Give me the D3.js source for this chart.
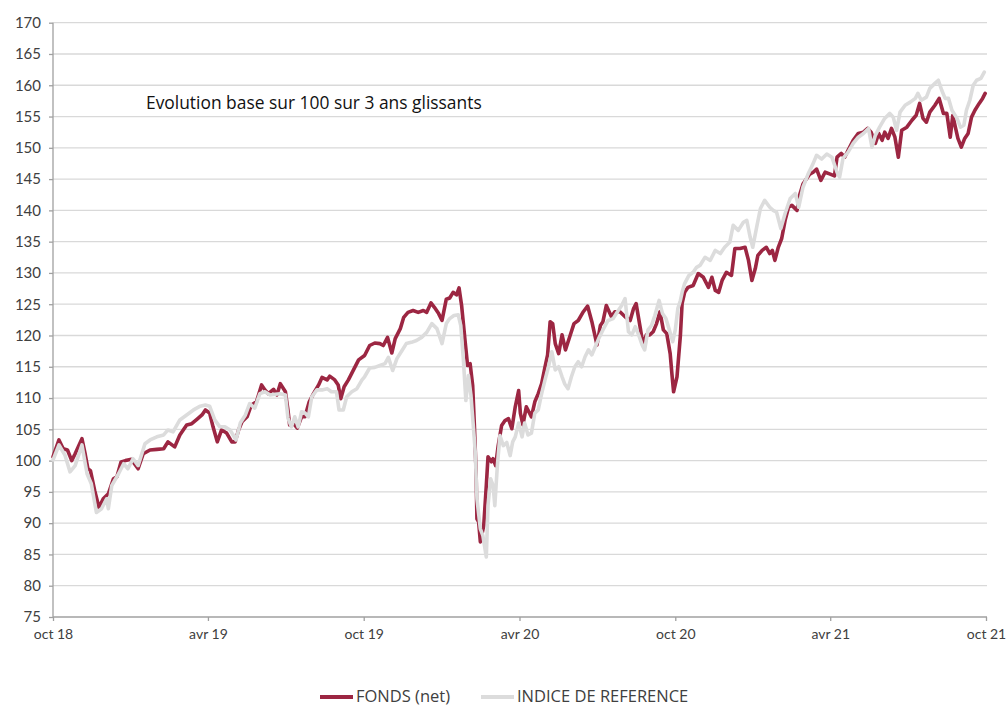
<!DOCTYPE html>
<html>
<head>
<meta charset="utf-8">
<script src="https://cdn.jsdelivr.net/npm/d3@7"></script>
<style>
  body { margin: 0; background: #fff; }
  text { font-family: Lato, "Open Sans", sans-serif; }
</style>
</head>
<body>
<svg id="chart" width="1008" height="706"></svg>
<script>
/* values */
const fondsDates = [
  '2018-10-01','2018-10-08','2018-10-13','2018-10-18','2018-10-23','2018-10-27','2018-11-04','2018-11-08','2018-11-11','2018-11-14',
  '2018-11-19','2018-11-24','2018-11-29','2018-12-05','2018-12-11','2018-12-15','2018-12-20','2018-12-25','2018-12-28','2019-01-01',
  '2019-01-09','2019-01-15','2019-01-23','2019-01-31','2019-02-08','2019-02-13','2019-02-21','2019-02-27','2019-03-07','2019-03-13',
  '2019-03-19','2019-03-25','2019-03-29','2019-04-03','2019-04-07','2019-04-12','2019-04-17','2019-04-23','2019-04-29','2019-05-03',
  '2019-05-07','2019-05-11','2019-05-17','2019-05-22','2019-05-28','2019-06-03','2019-06-07','2019-06-11','2019-06-17','2019-06-21',
  '2019-06-25','2019-07-01','2019-07-04','2019-07-06','2019-07-10','2019-07-15','2019-07-20','2019-07-24','2019-07-29','2019-08-03',
  '2019-08-09','2019-08-13','2019-08-19','2019-08-22','2019-08-28','2019-09-01','2019-09-04','2019-09-08','2019-09-13','2019-09-19',
  '2019-09-25','2019-10-02','2019-10-08','2019-10-14','2019-10-20','2019-10-24','2019-10-29','2019-11-03','2019-11-07','2019-11-13',
  '2019-11-17','2019-11-22','2019-11-28','2019-12-04','2019-12-10','2019-12-14','2019-12-19','2019-12-23','2019-12-28','2020-01-01',
  '2020-01-06','2020-01-10','2020-01-14','2020-01-18','2020-01-21','2020-01-24','2020-01-28','2020-01-31','2020-02-03','2020-02-06',
  '2020-02-08','2020-02-10','2020-02-11','2020-02-13','2020-02-15','2020-02-19','2020-02-22','2020-02-24','2020-02-28','2020-03-01',
  '2020-03-04','2020-03-07','2020-03-11','2020-03-15','2020-03-19','2020-03-23','2020-03-27','2020-03-31','2020-04-02','2020-04-05',
  '2020-04-09','2020-04-15','2020-04-19','2020-04-23','2020-04-27','2020-05-01','2020-05-04','2020-05-07','2020-05-10','2020-05-13',
  '2020-05-17','2020-05-21','2020-05-25','2020-05-30','2020-06-04','2020-06-09','2020-06-15','2020-06-20','2020-06-25','2020-07-01',
  '2020-07-05','2020-07-08','2020-07-12','2020-07-18','2020-07-22','2020-07-28','2020-08-03','2020-08-09','2020-08-13','2020-08-16',
  '2020-08-21','2020-08-24','2020-08-28','2020-09-01','2020-09-05','2020-09-09','2020-09-13','2020-09-17','2020-09-21','2020-09-25',
  '2020-09-27','2020-09-29','2020-10-03','2020-10-07','2020-10-09','2020-10-12','2020-10-16','2020-10-22','2020-10-28','2020-11-03',
  '2020-11-09','2020-11-13','2020-11-17','2020-11-21','2020-11-25','2020-11-30','2020-12-06','2020-12-10','2020-12-16','2020-12-22',
  '2020-12-26','2020-12-30','2021-01-03','2021-01-06','2021-01-11','2021-01-16','2021-01-20','2021-01-23','2021-01-26','2021-01-30',
  '2021-02-03','2021-02-07','2021-02-11','2021-02-15','2021-02-21','2021-02-24','2021-02-28','2021-03-04','2021-03-08','2021-03-12',
  '2021-03-16','2021-03-21','2021-03-26','2021-04-01','2021-04-06','2021-04-09','2021-04-14','2021-04-18','2021-04-22','2021-04-28',
  '2021-05-04','2021-05-10','2021-05-15','2021-05-19','2021-05-24','2021-05-28','2021-06-01','2021-06-04','2021-06-08','2021-06-12',
  '2021-06-16','2021-06-20','2021-06-24','2021-06-30','2021-07-06','2021-07-11','2021-07-15','2021-07-19','2021-07-23','2021-07-27',
  '2021-08-02','2021-08-07','2021-08-12','2021-08-16','2021-08-20','2021-08-23','2021-08-26','2021-08-29','2021-09-02','2021-09-06',
  '2021-09-10','2021-09-14','2021-09-18','2021-09-23','2021-09-27','2021-09-30'
];
const fondsValues = [
  100.6,103.3,101.9,101.7,100.0,101.1,103.5,100.9,98.7,98.4,
  95.2,92.5,93.9,94.7,97.1,97.4,99.8,100.0,100.1,100.2,
  98.7,101.1,101.7,101.8,101.9,103.0,102.2,104.1,105.7,105.9,
  106.6,107.3,108.1,107.6,105.4,103.0,104.9,104.4,103.0,103.0,
  104.9,106.2,107.0,108.9,109.4,112.1,111.3,110.7,111.4,110.5,
  112.3,111.0,108.1,105.7,106.0,105.2,107.0,107.0,109.4,110.7,
  112.1,113.3,112.9,113.5,112.9,112.1,109.9,111.8,112.9,114.5,
  116.1,116.8,118.4,118.8,118.7,118.4,119.7,117.2,119.5,121.1,
  122.9,123.7,124.0,123.7,124.0,123.7,125.2,124.5,123.5,122.4,
  125.8,126.0,126.9,126.5,127.6,124.8,119.2,115.2,115.5,112.0,
  105.6,98.2,90.7,90.2,87.0,89.6,96.0,100.6,99.8,100.3,
  99.2,102.4,105.6,106.4,106.7,105.1,108.6,111.2,107.6,105.7,
  108.6,107.0,109.4,110.7,112.3,115.0,116.9,122.2,121.9,118.7,
  117.1,120.1,117.7,119.8,121.9,122.4,123.8,124.7,122.2,118.5,
  121.6,122.2,124.8,123.0,123.8,123.8,123.0,122.4,124.3,125.1,
  121.1,118.5,120.1,120.1,120.6,121.9,123.8,120.9,120.3,117.1,
  113.9,111.0,113.4,120.0,125.1,126.9,127.7,128.0,129.9,129.3,
  127.7,129.3,127.2,126.9,128.8,130.1,129.6,133.9,133.9,134.1,
  132.0,128.8,130.7,132.8,133.6,134.1,133.1,133.6,132.0,134.1,
  135.5,138.4,140.5,140.8,140.0,142.4,144.2,145.0,145.8,146.1,
  146.6,144.8,146.1,145.8,145.5,148.5,149.1,148.5,149.6,151.2,
  152.3,152.5,153.1,152.5,150.7,152.3,151.2,152.5,151.5,153.1,
  151.7,148.5,152.8,153.3,154.4,155.2,157.1,154.7,154.1,155.7,
  156.8,157.9,155.5,155.5,151.7,155.2,153.3,151.5,150.1,151.5,
  152.3,154.9,156.0,157.1,157.9,158.7
];

const indiceDates = [
  '2018-10-01','2018-10-08','2018-10-15','2018-10-21','2018-10-27','2018-11-04','2018-11-10','2018-11-15','2018-11-21','2018-11-27',
  '2018-12-03','2018-12-05','2018-12-09','2018-12-17','2018-12-23','2018-12-28','2019-01-03','2019-01-09','2019-01-17','2019-01-23',
  '2019-01-31','2019-02-08','2019-02-13','2019-02-19','2019-02-27','2019-03-07','2019-03-15','2019-03-23','2019-03-29','2019-04-03',
  '2019-04-09','2019-04-15','2019-04-21','2019-04-27','2019-05-04','2019-05-09','2019-05-15','2019-05-20','2019-05-26','2019-06-01',
  '2019-06-07','2019-06-13','2019-06-19','2019-06-25','2019-07-01','2019-07-04','2019-07-08','2019-07-12','2019-07-16','2019-07-20',
  '2019-07-24','2019-07-28','2019-08-01','2019-08-07','2019-08-13','2019-08-19','2019-08-24','2019-08-30','2019-09-02','2019-09-07',
  '2019-09-11','2019-09-17','2019-09-23','2019-09-29','2019-10-02','2019-10-08','2019-10-14','2019-10-20','2019-10-26','2019-10-30',
  '2019-11-04','2019-11-09','2019-11-15','2019-11-20','2019-11-26','2019-12-02','2019-12-08','2019-12-14','2019-12-20','2019-12-26',
  '2020-01-01','2020-01-06','2020-01-10','2020-01-15','2020-01-20','2020-01-23','2020-01-26','2020-01-29','2020-02-01','2020-02-04',
  '2020-02-07','2020-02-09','2020-02-11','2020-02-15','2020-02-18','2020-02-22','2020-02-24','2020-02-27','2020-03-01','2020-03-03',
  '2020-03-06','2020-03-09','2020-03-13','2020-03-17','2020-03-21','2020-03-24','2020-03-27','2020-03-31','2020-04-04','2020-04-07',
  '2020-04-11','2020-04-15','2020-04-19','2020-04-23','2020-04-27','2020-05-01','2020-05-05','2020-05-09','2020-05-13','2020-05-17',
  '2020-05-21','2020-05-24','2020-05-28','2020-06-01','2020-06-05','2020-06-09','2020-06-13','2020-06-17','2020-06-21','2020-06-25',
  '2020-06-29','2020-07-03','2020-07-08','2020-07-14','2020-07-20','2020-07-26','2020-07-30','2020-08-03','2020-08-07','2020-08-11',
  '2020-08-15','2020-08-19','2020-08-23','2020-08-26','2020-08-30','2020-09-03','2020-09-07','2020-09-12','2020-09-16','2020-09-20',
  '2020-09-24','2020-09-28','2020-10-01','2020-10-04','2020-10-07','2020-10-09','2020-10-12','2020-10-17','2020-10-22','2020-10-26',
  '2020-10-30','2020-11-05','2020-11-11','2020-11-17','2020-11-23','2020-11-28','2020-12-04','2020-12-08','2020-12-14','2020-12-20',
  '2020-12-24','2020-12-28','2020-12-31','2021-01-05','2021-01-09','2021-01-14','2021-01-20','2021-01-24','2021-01-28','2021-02-02',
  '2021-02-07','2021-02-13','2021-02-19','2021-02-23','2021-02-28','2021-03-06','2021-03-11','2021-03-16','2021-03-22','2021-03-28',
  '2021-04-03','2021-04-09','2021-04-12','2021-04-16','2021-04-22','2021-04-28','2021-05-04','2021-05-10','2021-05-16','2021-05-20',
  '2021-05-24','2021-05-29','2021-06-04','2021-06-10','2021-06-14','2021-06-18','2021-06-22','2021-06-28','2021-07-04','2021-07-10',
  '2021-07-13','2021-07-17','2021-07-23','2021-07-27','2021-08-02','2021-08-06','2021-08-10','2021-08-14','2021-08-18','2021-08-22',
  '2021-08-28','2021-09-01','2021-09-05','2021-09-08','2021-09-12','2021-09-16','2021-09-20','2021-09-25','2021-09-29'
];
const indiceValues = [
  100.1,102.5,100.9,98.2,99.2,102.5,97.9,96.3,91.7,92.3,
  93.9,92.3,96.0,97.9,99.5,98.7,100.3,99.2,102.7,103.3,
  103.8,104.1,104.9,104.6,106.5,107.3,108.1,108.7,108.9,108.7,
  106.5,105.4,105.4,104.9,103.3,106.0,107.3,109.1,108.4,110.7,
  111.0,110.5,110.6,110.7,110.5,106.8,105.4,107.0,105.4,107.8,
  107.6,107.0,110.2,111.3,111.3,111.5,111.0,111.0,108.1,108.1,
  110.2,111.0,111.5,112.9,113.4,114.8,114.9,115.2,115.5,116.5,
  114.4,116.3,117.6,118.7,118.9,119.2,119.7,120.5,121.9,121.1,
  118.7,121.9,122.7,123.2,123.3,121.6,116.3,109.6,113.6,110.4,
  105.1,101.4,93.9,89.1,88.0,84.6,92.8,97.1,96.0,92.8,
  99.2,104.0,102.4,102.9,100.8,103.0,103.8,106.0,103.8,106.0,
  104.1,104.4,107.6,108.1,110.7,112.9,115.0,117.4,114.5,115.0,
  113.4,112.3,111.5,113.4,115.0,115.8,115.0,116.6,117.7,116.9,
  118.2,119.5,120.9,122.4,122.7,124.0,124.8,125.9,120.6,120.1,
  121.4,120.1,118.5,117.7,120.9,121.6,123.2,125.6,123.5,122.7,
  120.9,119.0,120.9,124.3,125.6,126.9,128.3,129.6,130.1,130.9,
  131.2,132.5,132.0,133.6,133.1,134.1,134.9,137.6,136.8,138.1,
  138.4,135.7,134.1,137.6,140.3,141.6,140.5,140.0,139.7,137.1,
  139.5,141.9,142.7,140.5,143.7,145.8,147.2,148.8,148.2,149.0,
  148.5,146.1,145.3,148.3,149.3,150.7,151.7,152.3,153.1,150.1,
  152.0,153.3,154.7,155.5,154.9,152.8,155.7,156.8,157.3,157.9,
  158.7,157.6,158.1,159.5,160.3,160.8,159.2,157.9,157.9,156.0,
  154.7,153.3,153.6,156.0,157.6,160.0,160.8,161.1,162.1
];

const yTicks = [75, 80, 85, 90, 95, 100, 105, 110, 115, 120, 125, 130, 135, 140, 145, 150, 155, 160, 165, 170];
const xTickDates = ['2018-10-01', '2019-04-01', '2019-10-01', '2020-04-01', '2020-10-01', '2021-04-01', '2021-10-01'];
const xTickLabels = ['oct 18', 'avr 19', 'oct 19', 'avr 20', 'oct 20', 'avr 21', 'oct 21'];
const seriesNames = ['FONDS (net)', 'INDICE DE REFERENCE'];
const titleText = 'Evolution base sur 100 sur 3 ans glissants';

/* layout */
const plotLeft = 53;
const plotRight = 986;
const plotTop = 22.7;
const plotBottom = 617;
const colors = ['#9c2642', '#dcdcdc'];

const parse = d3.timeParse('%Y-%m-%d');
const svg = d3.select('#chart');

const x = d3.scaleTime()
  .domain([parse(xTickDates[0]), parse(xTickDates[xTickDates.length - 1])])
  .range([plotLeft, plotRight]);
const y = d3.scaleLinear().domain([75, 170]).range([plotBottom, plotTop]);

/* grid */
svg.append('g')
  .selectAll('line')
  .data(yTicks.slice(1))
  .join('line')
  .attr('x1', plotLeft)
  .attr('x2', plotRight + 1)
  .attr('y1', (d) => y(d))
  .attr('y2', (d) => y(d))
  .attr('stroke', '#d9d9d9')
  .attr('stroke-width', 1.3);

/* axes */
const yAxis = svg.append('g')
  .attr('transform', `translate(${plotLeft},0)`)
  .call(d3.axisLeft(y).tickValues(yTicks).tickSize(4).tickPadding(8));
const xAxis = svg.append('g')
  .attr('transform', `translate(0,${plotBottom})`)
  .call(d3.axisBottom(x)
    .tickValues(xTickDates.map(parse))
    .tickFormat((d, i) => xTickLabels[i])
    .tickSize(4)
    .tickPadding(8));

[yAxis, xAxis].forEach((g) => {
  g.select('.domain').attr('stroke', '#a0a0a0').attr('stroke-width', 1.3);
  g.selectAll('.tick line').attr('stroke', '#a0a0a0').attr('stroke-width', 1.3);
  g.selectAll('.tick text')
    .attr('fill', '#404040')
    .style('font-family', 'Lato, sans-serif')
    .style('font-size', '15px');
});
xAxis.selectAll('.tick text').style('font-size', '14px');
yAxis.select('.domain').attr('d', `M0,${plotBottom}V${plotTop}`);
xAxis.select('.domain').attr('d', `M${plotLeft},0H${plotRight + 1}`);

/* lines */
const line = d3.line()
  .x((d) => x(d.date))
  .y((d) => y(d.value));

const fonds = fondsDates.map((d, i) => ({ date: parse(d), value: fondsValues[i] }));
const indice = indiceDates.map((d, i) => ({ date: parse(d), value: indiceValues[i] }));

[fonds, indice].forEach((s, i) => {
  svg.append('path')
    .datum(s)
    .attr('fill', 'none')
    .attr('stroke', colors[i])
    .attr('stroke-width', 3.6)
    .attr('stroke-linejoin', 'round')
    .attr('stroke-linecap', 'round')
    .attr('d', line);
});

/* title */
svg.append('text')
  .attr('x', 146)
  .attr('y', 109)
  .attr('fill', '#111')
  .style('font-family', '"Open Sans", sans-serif')
  .style('font-size', '17.4px')
  .text(titleText);

/* legend */
const legendX = [320, 481];
const legend = svg.append('g');
seriesNames.forEach((name, i) => {
  legend.append('line')
    .attr('x1', legendX[i])
    .attr('x2', legendX[i] + 33)
    .attr('y1', 697)
    .attr('y2', 697)
    .attr('stroke', colors[i])
    .attr('stroke-width', 4);
  legend.append('text')
    .attr('x', legendX[i] + 36)
    .attr('y', 702)
    .attr('fill', '#404040')
    .style('font-family', '"Open Sans", sans-serif')
    .style('font-size', '16.5px')
    .text(name);
});
</script>
</body>
</html>
